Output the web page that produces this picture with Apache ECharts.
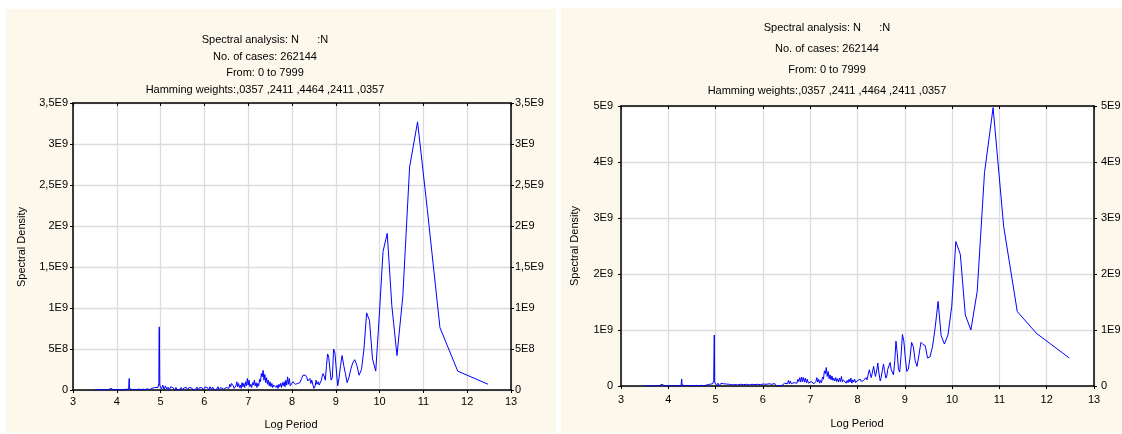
<!DOCTYPE html>
<html>
<head>
<meta charset="utf-8">
<title>Spectral analysis</title>
<script src="https://cdn.jsdelivr.net/npm/echarts/dist/echarts.min.js"></script>
<style>
  html, body { margin: 0; padding: 0; background: #ffffff; }
  #wrap { position: relative; width: 1122px; height: 434px; overflow: hidden; }
  .panel { position: absolute; background: #fdf8ec; }
  #chart { position: absolute; left: 0; top: 0; width: 1122px; height: 434px; }
</style>
</head>
<body>
<div id="wrap">
  <div class="panel" style="left:6px; top:9px; width:550px; height:424px;"></div>
  <div class="panel" style="left:561px; top:8px; width:561px; height:425px;"></div>
  <div id="chart"></div>
</div>
<script>
// Log period of each spectral estimate (ln of period), longest periods first.
const logPeriod = [
  12.477, 11.784, 11.378, 11.090, 10.867, 10.685, 10.531, 10.397, 10.279, 10.174,
  10.079, 9.992, 9.912, 9.838, 9.768, 9.704, 9.643, 9.586, 9.532, 9.481,
  9.432, 9.386, 9.341, 9.299, 9.258, 9.219, 9.181, 9.144, 9.109, 9.075,
  9.043, 9.011, 8.980, 8.950, 8.921, 8.893, 8.866, 8.839, 8.813, 8.788,
  8.76, 8.74, 8.71, 8.69, 8.67, 8.64, 8.62, 8.60, 8.57, 8.55,
  8.53, 8.50, 8.48, 8.45, 8.43, 8.41, 8.38, 8.36, 8.34, 8.31,
  8.29, 8.27, 8.25, 8.22, 8.20, 8.18, 8.15, 8.13, 8.11, 8.08,
  8.06, 8.04, 8.02, 8.00,
  7.98, 7.96, 7.94, 7.92, 7.90, 7.88, 7.86, 7.84, 7.82, 7.80,
  7.78, 7.76, 7.74, 7.72, 7.70, 7.68, 7.66, 7.64, 7.62, 7.60,
  7.58, 7.56, 7.54, 7.52, 7.50, 7.48, 7.46, 7.44, 7.42, 7.40,
  7.38, 7.36, 7.34, 7.32, 7.30, 7.28, 7.26, 7.24, 7.22, 7.20,
  7.18, 7.16, 7.14, 7.12, 7.10, 7.08, 7.06, 7.04, 7.02, 7.00,
  6.98, 6.96, 6.94, 6.92, 6.90, 6.88, 6.86, 6.84, 6.82, 6.80,
  6.78, 6.76, 6.74, 6.72, 6.70, 6.68, 6.66, 6.64, 6.62, 6.60,
  6.58, 6.56, 6.54, 6.52, 6.50, 6.48, 6.46, 6.44, 6.42, 6.40,
  6.37, 6.34, 6.31, 6.28, 6.25, 6.22, 6.19, 6.16, 6.13, 6.10,
  6.07, 6.04, 6.01, 5.98, 5.95, 5.92, 5.89, 5.86, 5.83, 5.80,
  5.77, 5.74, 5.71, 5.68, 5.65, 5.62, 5.59, 5.56, 5.53, 5.50,
  5.47, 5.44, 5.41, 5.38, 5.35, 5.32, 5.29, 5.26, 5.23, 5.20,
  5.17, 5.14, 5.11, 5.08, 5.05, 5.02,
  4.98, 4.972, 4.966, 4.96, 4.94, 4.92, 4.90, 4.87, 4.84, 4.80,
  4.75, 4.70, 4.65, 4.60, 4.55, 4.50, 4.45, 4.40, 4.35, 4.31,
  4.29, 4.283, 4.277, 4.27, 4.24, 4.20, 4.10, 4.00, 3.92, 3.89,
  3.87, 3.84, 3.80, 3.70, 3.60, 3.58, 3.565, 3.55, 3.50
];

// Spectral density, in units of 1E9 — first analysis.
const densityA = [
  0.07, 0.23, 0.76, 2.2, 3.27, 2.72, 1.15, 0.42, 1.03, 1.91,
  1.69, 0.9, 0.23, 0.38, 0.85, 0.94, 0.5, 0.25, 0.18, 0.3,
  0.37, 0.33, 0.25, 0.15, 0.09, 0.2, 0.3, 0.42, 0.3, 0.15,
  0.05, 0.04, 0.45, 0.5, 0.15, 0.12, 0.25, 0.4, 0.44, 0.3,
  0.12, 0.16, 0.2, 0.17, 0.12, 0.1, 0.06, 0.1, 0.07, 0.12,
  0.05, 0.02, 0.06, 0.12, 0.08, 0.14, 0.15, 0.11, 0.15, 0.18,
  0.17, 0.19, 0.18, 0.14, 0.12, 0.09, 0.11, 0.08, 0.1, 0.07,
  0.09, 0.06, 0.1, 0.08,
  0.12, 0.05, 0.14, 0.07, 0.16, 0.06, 0.12, 0.04, 0.1, 0.05,
  0.09, 0.03, 0.08, 0.04, 0.07, 0.02, 0.06, 0.03, 0.05, 0.02,
  0.06, 0.03, 0.08, 0.04, 0.1, 0.05, 0.12, 0.07, 0.15, 0.09,
  0.19, 0.12, 0.24, 0.16, 0.2, 0.1, 0.13, 0.05, 0.08, 0.03,
  0.09, 0.05, 0.12, 0.06, 0.09, 0.03, 0.07, 0.04, 0.12, 0.06,
  0.14, 0.05, 0.1, 0.03, 0.08, 0.04, 0.09, 0.02, 0.06, 0.03,
  0.08, 0.04, 0.1, 0.05, 0.07, 0.02, 0.05, 0.03, 0.08, 0.04,
  0.07, 0.02, 0.04, 0.01, 0.03, 0.01, 0.04, 0.01, 0.03, 0.01,
  0.03, 0.0, 0.04, 0.01, 0.03, 0.0, 0.035, 0.005, 0.04, 0.0,
  0.03, 0.01, 0.035, 0.0, 0.025, 0.005, 0.03, 0.0, 0.035, 0.01,
  0.03, 0.0, 0.025, 0.005, 0.03, 0.0, 0.03, 0.01, 0.025, 0.0,
  0.03, 0.005, 0.02, 0.0, 0.03, 0.0, 0.025, 0.005, 0.04, 0.0,
  0.035, 0.01, 0.05, 0.005, 0.06, 0.01,
  0.06, 0.77, 0.74, 0.08, 0.03, 0.05, 0.02, 0.03, 0.01, 0.02,
  0.005, 0.015, 0.005, 0.01, 0.005, 0.01, 0.005, 0.008, 0.005, 0.01,
  0.02, 0.14, 0.13, 0.01, 0.005, 0.008, 0.003, 0.005, 0.003, 0.015,
  0.02, 0.005, 0.003, 0.002, 0.003, 0.01, 0.025, 0.005, 0.002
];

// Spectral density, in units of 1E9 — second analysis.
const densityB = [
  0.5, 0.94, 1.33, 2.85, 4.97, 3.81, 1.69, 1.0, 1.27, 2.35,
  2.58, 1.42, 0.91, 0.75, 0.9, 1.51, 1.05, 0.7, 0.52, 0.5,
  0.72, 0.74, 0.78, 0.55, 0.35, 0.45, 0.7, 0.78, 0.5, 0.3,
  0.26, 0.5, 0.8, 0.92, 0.55, 0.25, 0.3, 0.6, 0.8, 0.45,
  0.2, 0.17, 0.3, 0.42, 0.45, 0.3, 0.18, 0.14, 0.28, 0.39,
  0.3, 0.15, 0.09, 0.25, 0.41, 0.3, 0.17, 0.25, 0.35, 0.22,
  0.15, 0.22, 0.29, 0.18, 0.11, 0.15, 0.14, 0.1, 0.12, 0.08,
  0.12, 0.09, 0.11, 0.1,
  0.1, 0.06, 0.12, 0.07, 0.11, 0.05, 0.14, 0.07, 0.12, 0.06,
  0.1, 0.05, 0.08, 0.05, 0.11, 0.07, 0.17, 0.08, 0.14, 0.07,
  0.13, 0.08, 0.15, 0.09, 0.14, 0.1, 0.18, 0.11, 0.2, 0.13,
  0.26, 0.17, 0.33, 0.22, 0.27, 0.12, 0.16, 0.06, 0.1, 0.05,
  0.12, 0.07, 0.15, 0.08, 0.1, 0.04, 0.07, 0.03, 0.08, 0.05,
  0.1, 0.05, 0.12, 0.06, 0.14, 0.07, 0.15, 0.08, 0.16, 0.07,
  0.15, 0.08, 0.12, 0.05, 0.08, 0.03, 0.06, 0.03, 0.07, 0.04,
  0.09, 0.04, 0.1, 0.04, 0.06, 0.02, 0.05, 0.02, 0.04, 0.01,
  0.04, 0.005, 0.035, 0.0, 0.045, 0.01, 0.03, 0.0, 0.04, 0.005,
  0.03, 0.0, 0.035, 0.01, 0.025, 0.0, 0.03, 0.005, 0.025, 0.0,
  0.03, 0.01, 0.02, 0.0, 0.03, 0.005, 0.025, 0.0, 0.03, 0.01,
  0.02, 0.0, 0.025, 0.005, 0.02, 0.0, 0.03, 0.005, 0.035, 0.0,
  0.04, 0.01, 0.045, 0.005, 0.05, 0.01,
  0.07, 0.91, 0.88, 0.1, 0.04, 0.05, 0.02, 0.03, 0.01, 0.015,
  0.005, 0.012, 0.005, 0.01, 0.005, 0.008, 0.005, 0.008, 0.005, 0.01,
  0.02, 0.125, 0.12, 0.01, 0.005, 0.006, 0.003, 0.004, 0.003, 0.015,
  0.03, 0.005, 0.003, 0.002, 0.003, 0.01, 0.025, 0.005, 0.002
];

// Density axis tick labels (one per interval step).
const ticksA = ['0', '5E8', '1E9', '1,5E9', '2E9', '2,5E9', '3E9', '3,5E9'];
const ticksB = ['0', '1E9', '2E9', '3E9', '4E9', '5E9'];

const titleLines = [
  'Spectral analysis: N      :N',
  'No. of cases: 262144',
  'From: 0 to 7999',
  'Hamming weights:,0357 ,2411 ,4464 ,2411 ,0357'
];
const xName = 'Log Period';
const yName = 'Spectral Density';

const FONT = '"Liberation Sans", Arial, sans-serif';
const BLACK = '#000000';
const GRIDLINE = '#dcdcdc';

function pairs(xs, ys) {
  return xs.map((x, i) => [x, ys[i]]);
}

function xAxesFor(gi, labelMargin) {
  const common = {
    type: 'value', gridIndex: gi, min: 3, max: 13, interval: 1,
    axisLine: { show: true, onZero: false, lineStyle: { color: BLACK, width: 1.5 } }
  };
  return [
    Object.assign({}, common, {
      position: 'bottom',
      axisTick: { show: true, inside: false, length: 3, lineStyle: { color: BLACK } },
      axisLabel: { color: BLACK, fontSize: 11, fontFamily: FONT, margin: labelMargin,
                   showMinLabel: true, showMaxLabel: true, hideOverlap: false },
      splitLine: { show: true, lineStyle: { color: GRIDLINE, width: 1.3 } }
    }),
    Object.assign({}, common, {
      position: 'top',
      axisTick: { show: true, inside: true, length: 3, lineStyle: { color: BLACK } },
      axisLabel: { show: false },
      splitLine: { show: false }
    })
  ];
}

function yAxesFor(gi, max, step, ticks, marginL, marginR) {
  const fmt = v => ticks[Math.round(v / step)] || '';
  const common = {
    type: 'value', gridIndex: gi, min: 0, max: max, interval: step,
    axisLine: { show: true, onZero: false, lineStyle: { color: BLACK, width: 1.5 } },
    axisTick: { show: true, inside: false, length: 3, lineStyle: { color: BLACK } }
  };
  return [
    Object.assign({}, common, {
      position: 'left',
      axisLabel: { color: BLACK, fontSize: 11, fontFamily: FONT, margin: marginL, formatter: fmt,
                   showMinLabel: true, showMaxLabel: true, hideOverlap: false },
      splitLine: { show: true, lineStyle: { color: GRIDLINE, width: 1.3 } }
    }),
    Object.assign({}, common, {
      position: 'right',
      axisLabel: { color: BLACK, fontSize: 11, fontFamily: FONT, margin: marginR, formatter: fmt,
                   showMinLabel: true, showMaxLabel: true, hideOverlap: false },
      splitLine: { show: false }
    })
  ];
}

function textEl(text, x, y, rotate) {
  return {
    type: 'text', x: x, y: y, rotation: rotate ? Math.PI / 2 : 0, silent: true,
    style: { text: text, fill: BLACK, font: '11px ' + FONT, textAlign: 'center', textVerticalAlign: 'middle' }
  };
}

const titleA = titleLines.map((t, i) => textEl(t, 265, 40 + i * 16.5));
const titleB = titleLines.map((t, i) => textEl(t, 827, 28 + i * 21.1));

const lineStyle = { color: '#0000ff', width: 1 };

const option = {
  animation: false,
  backgroundColor: 'transparent',
  grid: [
    { left: 73, top: 103, width: 438, height: 287, show: true, backgroundColor: '#ffffff',
      borderWidth: 0, containLabel: false, outerBoundsMode: 'none' },
    { left: 621, top: 106, width: 473, height: 280, show: true, backgroundColor: '#ffffff',
      borderWidth: 0, containLabel: false, outerBoundsMode: 'none' }
  ],
  xAxis: xAxesFor(0, 6).concat(xAxesFor(1, 8)),
  yAxis: yAxesFor(0, 3.5, 0.5, ticksA, 5, 4).concat(yAxesFor(1, 5, 1, ticksB, 8, 7)),
  series: [
    { type: 'line', xAxisIndex: 0, yAxisIndex: 0, data: pairs(logPeriod, densityA),
      showSymbol: false, symbol: 'none', lineStyle: lineStyle, itemStyle: { color: '#0000ff' },
      clip: true, silent: true },
    { type: 'line', xAxisIndex: 2, yAxisIndex: 2, data: pairs(logPeriod, densityB),
      showSymbol: false, symbol: 'none', lineStyle: lineStyle, itemStyle: { color: '#0000ff' },
      clip: true, silent: true }
  ],
  graphic: titleA.concat(titleB, [
    textEl(xName, 291, 425, false),
    textEl(xName, 857, 424, false),
    textEl(yName, 22, 247, true),
    textEl(yName, 575, 246, true)
  ])
};

const chart = echarts.init(document.getElementById('chart'), null, { renderer: 'canvas' });
chart.setOption(option);
</script>
</body>
</html>
